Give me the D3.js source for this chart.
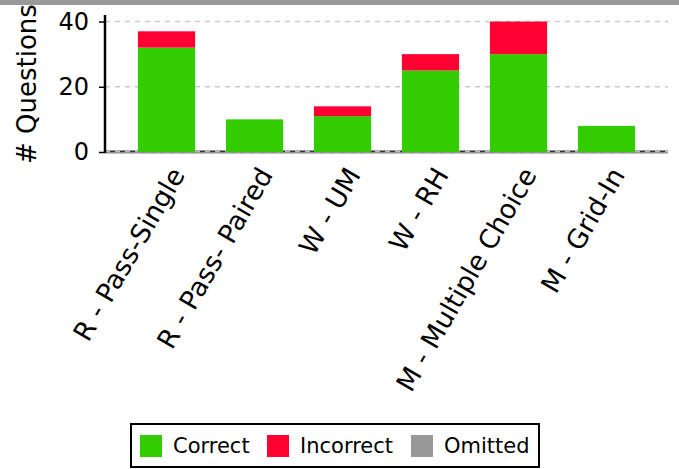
<!DOCTYPE html>
<html>
<head>
<meta charset="utf-8">
<script src="https://cdnjs.cloudflare.com/ajax/libs/d3/7.8.5/d3.min.js"></script>
<style>
  body { margin: 0; background: #fff; }
  text { font-family: "DejaVu Sans", sans-serif; fill: #000; }
</style>
</head>
<body>
<div id="chart"></div>
<script>
// data
var categories = ["R - Pass-Single", "R - Pass- Paired", "W - UM", "W - RH", "M - Multiple Choice", "M - Grid-In"];
var correct = [32, 10, 11, 25, 30, 8];
var incorrect = [5, 0, 3, 5, 10, 0];
var omitted = [0, 0, 0, 0, 0, 0];
var seriesNames = ["Correct", "Incorrect", "Omitted"];
var yTicks = [0, 20, 40];

var colors = ["#33cc00", "#ff0033", "#999999"];
var width = 679, height = 469;
var plotLeft = 105, plotRight = 668, plotTop = 15, plotBottom = 152;

var svg = d3.select("#chart")
    .append("svg")
    .attr("width", width)
    .attr("height", height);

// gray strip at the top
svg.append("rect")
    .attr("x", 0).attr("y", 0)
    .attr("width", width).attr("height", 5)
    .attr("fill", "#999");

var xScale = d3.scaleBand()
    .domain(categories)
    .range([plotLeft, plotRight])
    .paddingInner(0.35)
    .paddingOuter(0.374);

var yScale = d3.scaleLinear()
    .domain([0, 42])
    .range([plotBottom, plotTop]);

// stack the series
var rows = categories.map(function(c, i) {
    return { cat: c, Correct: correct[i], Incorrect: incorrect[i], Omitted: omitted[i] };
});
var stacked = d3.stack().keys(seriesNames)(rows);

// grid lines
svg.append("g")
    .selectAll("line")
    .data(yTicks.filter(function(t) { return t > 0; }))
    .enter().append("line")
    .attr("x1", plotLeft).attr("x2", plotRight)
    .attr("y1", function(d) { return yScale(d); })
    .attr("y2", function(d) { return yScale(d); })
    .attr("stroke", "#ccc")
    .attr("stroke-width", 1.5)
    .attr("stroke-dasharray", "5,5");

// zero line (dark under light dashes)
svg.append("line")
    .attr("x1", plotLeft).attr("x2", plotRight)
    .attr("y1", yScale(0) - 0.5).attr("y2", yScale(0) - 0.5)
    .attr("stroke", "#333").attr("stroke-width", 2);
svg.append("line")
    .attr("x1", plotLeft).attr("x2", plotRight)
    .attr("y1", yScale(0) - 0.5).attr("y2", yScale(0) - 0.5)
    .attr("stroke", "#bbb").attr("stroke-width", 2)
    .attr("stroke-dasharray", "5,5");

// bars
svg.append("g")
    .selectAll("g")
    .data(stacked)
    .enter().append("g")
    .attr("fill", function(d, i) { return colors[i]; })
    .selectAll("rect")
    .data(function(d) { return d; })
    .enter().append("rect")
    .attr("x", function(d) { return xScale(d.data.cat); })
    .attr("y", function(d) { return yScale(d[1]); })
    .attr("width", xScale.bandwidth())
    .attr("height", function(d) { return yScale(d[0]) - yScale(d[1]); });

// x axis line
svg.append("line")
    .attr("x1", plotLeft).attr("x2", plotRight)
    .attr("y1", yScale(0) + 1).attr("y2", yScale(0) + 1)
    .attr("stroke", "#888").attr("stroke-width", 1.2);

// y axis
var yAxis = d3.axisLeft(yScale)
    .tickValues(yTicks)
    .tickSize(6)
    .tickPadding(10);
var yG = svg.append("g")
    .attr("transform", "translate(" + plotLeft + ",0)")
    .call(yAxis);
yG.select(".domain")
    .attr("d", "M0," + plotTop + "V" + (plotBottom + 1))
    .attr("stroke", "#000").attr("stroke-width", 2.5);
yG.selectAll(".tick line").attr("stroke", "#000").attr("stroke-width", 1.5);
yG.selectAll(".tick text")
    .style("font-family", "DejaVu Sans")
    .style("font-size", "24px")
    .attr("fill", "#000");

// y label
svg.append("text")
    .attr("transform", "translate(36,164) rotate(-90)")
    .attr("text-anchor", "start")
    .style("font-size", "26px")
    .text("# Questions");

// x labels
svg.append("g")
    .selectAll("text")
    .data(categories)
    .enter().append("text")
    .attr("transform", function(d) {
        return "translate(" + (xScale(d) + xScale.bandwidth() / 2 + 11) + "," + 170 + ") rotate(-60)";
    })
    .attr("text-anchor", "end")
    .attr("dy", "0.35em")
    .style("font-size", "26.5px")
    .text(function(d) { return d; });

// legend
var legend = svg.append("g");
legend.append("rect")
    .attr("x", 131).attr("y", 424)
    .attr("width", 408).attr("height", 43)
    .attr("fill", "#fff")
    .attr("stroke", "#000").attr("stroke-width", 2);

var legendX = [140, 267, 411];
var items = legend.selectAll("g.item")
    .data(seriesNames)
    .enter().append("g")
    .attr("class", "item")
    .attr("transform", function(d, i) { return "translate(" + legendX[i] + ",435)"; });
items.append("rect")
    .attr("width", 22).attr("height", 22)
    .attr("fill", function(d, i) { return colors[i]; });
items.append("text")
    .attr("x", 33).attr("y", 11)
    .attr("dy", "0.35em")
    .style("font-size", "21px")
    .text(function(d) { return d; });
</script>
</body>
</html>
